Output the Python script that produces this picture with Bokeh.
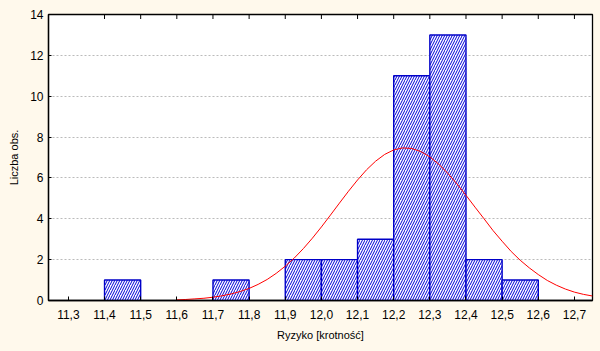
import math
from bokeh.plotting import figure
from bokeh.models import FixedTicker, Range1d, ColumnDataSource
from bokeh.embed import file_html
from bokeh.resources import INLINE

# Histogram bins (lower edges) and counts
bin_left = [11.3, 11.4, 11.5, 11.6, 11.7, 11.8, 11.9, 12.0, 12.1, 12.2, 12.3, 12.4, 12.5, 12.6]
counts = [0, 1, 0, 0, 1, 0, 2, 2, 3, 11, 13, 2, 1, 0]
bin_width = 0.1

# Fitted normal curve (expected counts)
curve_x = [11.600, 11.625, 11.650, 11.675, 11.700, 11.725, 11.750, 11.775, 11.800, 11.825,
           11.850, 11.875, 11.900, 11.925, 11.950, 11.975, 12.000, 12.025, 12.050, 12.075,
           12.100, 12.125, 12.150, 12.175, 12.200, 12.225, 12.250, 12.275, 12.300, 12.325,
           12.350, 12.375, 12.400, 12.425, 12.450, 12.475, 12.500, 12.525, 12.550, 12.575,
           12.600, 12.625, 12.650, 12.675, 12.700, 12.725, 12.750]
curve_y = [0.03, 0.05, 0.08, 0.11, 0.16, 0.23, 0.32, 0.44, 0.59, 0.79,
           1.03, 1.33, 1.68, 2.08, 2.54, 3.05, 3.60, 4.18, 4.77, 5.35,
           5.90, 6.40, 6.82, 7.15, 7.37, 7.47, 7.44, 7.29, 7.03, 6.67,
           6.22, 5.71, 5.15, 4.57, 4.00, 3.42, 2.90, 2.40, 1.97, 1.60,
           1.27, 0.98, 0.75, 0.56, 0.41, 0.30, 0.22]

x_ticks = [11.3, 11.4, 11.5, 11.6, 11.7, 11.8, 11.9, 12.0, 12.1, 12.2, 12.3, 12.4, 12.5, 12.6, 12.7]
x_tick_labels = ["11,3", "11,4", "11,5", "11,6", "11,7", "11,8", "11,9", "12,0",
                 "12,1", "12,2", "12,3", "12,4", "12,5", "12,6", "12,7"]
y_ticks = [0, 2, 4, 6, 8, 10, 12, 14]

x_label = "Ryzyko [krotność]"
y_label = "Liczba obs."

FONT = "Liberation Sans"
BG = "#FFF9EC"

X_MIN, X_MAX = 11.245, 12.75

p = figure(frame_width=544, frame_height=286,
           min_border_left=48, min_border_right=8, min_border_top=14, min_border_bottom=51,
           x_range=Range1d(X_MIN, X_MAX), y_range=Range1d(y_ticks[0], y_ticks[-1]),
           output_backend="svg", toolbar_location=None,
           background_fill_color="white", border_fill_color=BG)

p.outline_line_color = "black"
p.outline_line_width = 1.3

nz = [i for i, c in enumerate(counts) if c > 0]
src = ColumnDataSource(dict(
    left=[bin_left[i] for i in nz],
    right=[bin_left[i] + bin_width for i in nz],
    top=[counts[i] for i in nz],
))
p.quad(left="left", right="right", top="top", bottom=0, source=src,
       fill_color="white", line_color="#0000C8", line_width=1.4,
       hatch_pattern="/", hatch_color="#0000D8", hatch_scale=5, hatch_weight=1)

p.line(curve_x, curve_y, line_color="#FF0000", line_width=1)

# top border ticks (pointing inward; outer half clipped by the frame)
p.scatter(x=x_ticks[1:], y=[y_ticks[-1]] * (len(x_ticks) - 1), marker="dash",
          angle=math.pi / 2, size=9, line_color="black", line_width=1)

# grid
p.xgrid.grid_line_color = None
p.ygrid.grid_line_color = "#BBBBBB"
p.ygrid.grid_line_dash = "2 2"
p.ygrid.ticker = FixedTicker(ticks=y_ticks[1:-1])

for ax in (p.xaxis[0], p.yaxis[0]):
    ax.minor_tick_line_color = None
    ax.axis_label_text_font = FONT
    ax.axis_label_text_font_size = "11px"
    ax.axis_label_text_font_style = "normal"
    ax.axis_label_text_color = "black"
    ax.major_label_text_font = FONT
    ax.major_label_text_font_size = "12px"
    ax.major_label_text_color = "black"
    ax.axis_line_color = "black"
    ax.axis_line_width = 1.3
    ax.major_tick_line_color = "black"

xa = p.xaxis[0]
xa.ticker = FixedTicker(ticks=x_ticks)
xa.major_label_overrides = {t: l for t, l in zip(x_ticks, x_tick_labels)}
xa.major_tick_in = 4
xa.major_tick_out = 0
xa.major_label_standoff = 9
xa.axis_label = x_label
xa.axis_label_standoff = 7

ya = p.yaxis[0]
ya.ticker = FixedTicker(ticks=y_ticks)
ya.major_tick_in = 3
ya.major_tick_out = 0
ya.major_label_standoff = 5
ya.axis_label = y_label
ya.axis_label_standoff = 7

html = file_html(p, INLINE)
html = html.replace("<head>", "<head><style>html,body{background-color:%s;}</style>" % BG, 1)
open("out.html", "w").write(html)
